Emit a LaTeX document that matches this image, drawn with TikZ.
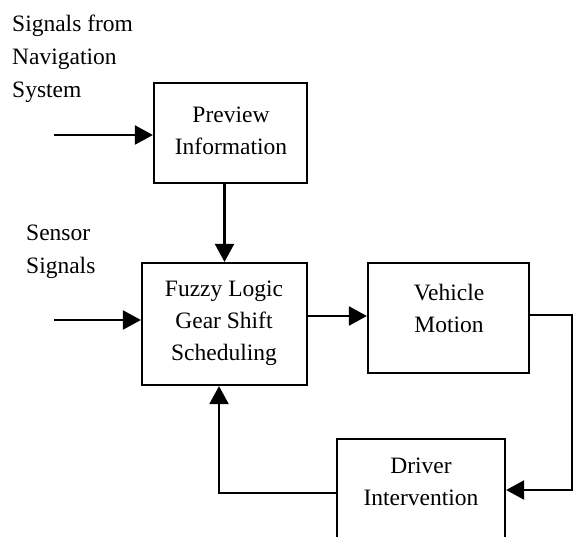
\documentclass[tikz,border=0pt]{standalone}
\usepackage{fontspec}
\setmainfont{Liberation Serif}
\usetikzlibrary{arrows.meta}
\begin{document}
\begin{tikzpicture}[x=1pt,y=-1pt,
  box/.style={draw, line width=2.2pt, inner sep=0pt},
  lbl/.style={align=center, font=\fontsize{23.5pt}{32pt}\selectfont, inner sep=0pt},
  side/.style={align=left, font=\fontsize{23.5pt}{33pt}\selectfont, inner sep=0pt, anchor=north west},
  flow/.style={line width=2.2pt, -{Triangle[length=18pt,width=19pt]}},
  wire/.style={line width=2.2pt}]
\useasboundingbox (0,0) rectangle (573,536);
\clip (0,0) rectangle (573,536);

% blocks
\node[box, minimum width=153pt, minimum height=100pt] (prev) at (230.5,133) {};
\node[box, minimum width=165pt, minimum height=122pt] (fz) at (224.5,324) {};
\node[box, minimum width=161pt, minimum height=110pt] (veh) at (448.5,318) {};
\node[box, minimum width=168pt, minimum height=130pt, anchor=north] (drv) at (421,438) {};

% block labels
\node[lbl] (prevt) at (231,131) {Preview\\Information};
\node[lbl] (fzt) at (224,323) {Fuzzy Logic\\Gear Shift\\Scheduling};
\node[lbl] (veht) at (449,308) {Vehicle\\Motion};
\node[lbl] (drvt) at (421,482) {Driver\\Intervention};

% input labels
\node[side] (navt) at (12,15) {Signals from\\Navigation\\System};
\node[side] (sent) at (26,225) {Sensor\\Signals};

% free ends and corners of the connectors
\coordinate (navin) at (54,135);
\coordinate (senin) at (54,320);
\coordinate (c1) at (572,315);
\coordinate (c2) at (572,490);
\coordinate (c3) at (219,493);

% connectors
\draw[flow] (navin) -- (navin -| prev.west);
\draw[flow] (prev.south -| fz.north) -- (fz.north);
\draw[flow] (senin) -- (senin -| fz.west);
\draw[flow] (fz.east |- 0,316) -- (veh.west |- 0,316);
\draw[flow] (veh.east |- c1) -- (c1) -- (c2) -- (c2 -| drv.east);
\draw[flow] (drv.west |- c3) -- (c3) -- (c3 |- fz.south);
\end{tikzpicture}
\end{document}
